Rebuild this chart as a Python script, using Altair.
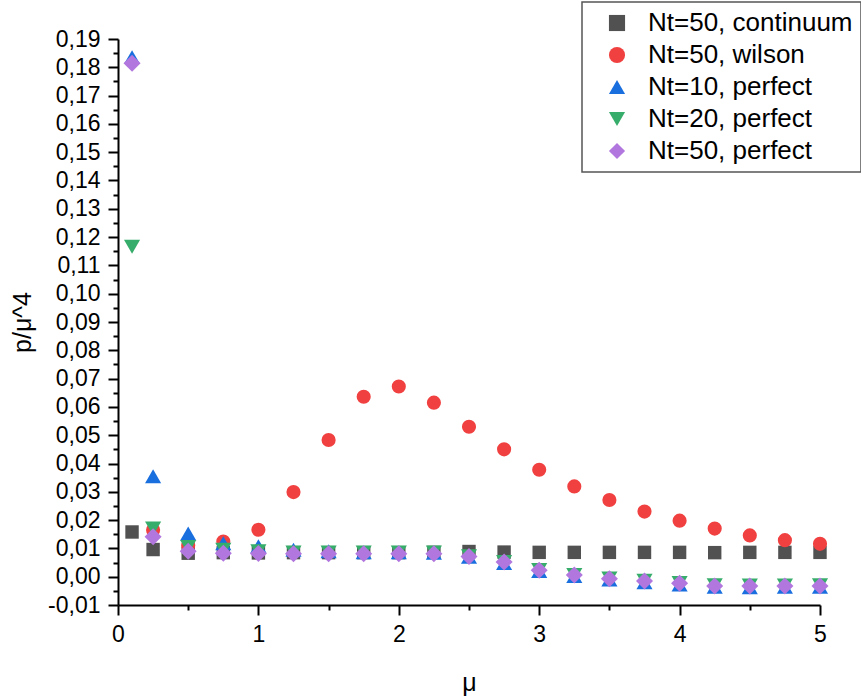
import altair as alt
import pandas as pd

x_all = [0.1, 0.25, 0.5, 0.75, 1.0, 1.25, 1.5, 1.75, 2.0, 2.25, 2.5, 2.75,
         3.0, 3.25, 3.5, 3.75, 4.0, 4.25, 4.5, 4.75, 5.0]
x_wilson = x_all[1:]

continuum_50 = [0.0158, 0.0096, 0.0083, 0.0085, 0.0084, 0.0085, 0.0085, 0.0085,
                0.0085, 0.0086, 0.0089, 0.0087, 0.0086, 0.0086, 0.0086, 0.0086,
                0.0086, 0.0085, 0.0086, 0.0086, 0.0086]
wilson_50 = [0.0165, 0.0110, 0.0124, 0.0166, 0.0299, 0.0483, 0.0636, 0.0672,
             0.0615, 0.0530, 0.0450, 0.0378, 0.0319, 0.0271, 0.0230, 0.0198,
             0.0170, 0.0146, 0.0129, 0.0116]
perfect_10 = [0.1836, 0.0355, 0.0153, 0.0118, 0.0108, 0.0095, 0.0090, 0.0086,
              0.0086, 0.0085, 0.0070, 0.0048, 0.0020, 0.0002, -0.0010, -0.0020,
              -0.0028, -0.0036, -0.0037, -0.0036, -0.0036]
perfect_20 = [0.1166, 0.0170, 0.0105, 0.0095, 0.0090, 0.0086, 0.0086, 0.0086,
              0.0086, 0.0086, 0.0072, 0.0052, 0.0024, 0.0006, -0.0006, -0.0014,
              -0.0022, -0.0030, -0.0031, -0.0031, -0.0030]
perfect_50 = [0.1814, 0.0141, 0.0090, 0.0083, 0.0082, 0.0081, 0.0081, 0.0081,
              0.0081, 0.0081, 0.0071, 0.0052, 0.0023, 0.0006, -0.0007, -0.0015,
              -0.0023, -0.0033, -0.0033, -0.0033, -0.0033]

series_names = ["Nt=50, continuum", "Nt=50, wilson", "Nt=10, perfect",
                "Nt=20, perfect", "Nt=50, perfect"]
series_colors = ["#515151", "#F14040", "#1A6FDF", "#37AD6B", "#B177DE"]
series_shapes = ["square", "circle", "triangle-up", "triangle-down", "diamond"]
series_sizes = [180, 200, 260, 260, 290]
series_x = [x_all, x_wilson, x_all, x_all, x_all]
series_y = [continuum_50, wilson_50, perfect_10, perfect_20, perfect_50]

x_major = [0, 1, 2, 3, 4, 5]
x_minor = [0.5, 1.5, 2.5, 3.5, 4.5]
y_major = [round(-0.01 + 0.01 * i, 2) for i in range(21)]
y_minor = [round(-0.005 + 0.01 * i, 3) for i in range(20)]

frames = []
for name, xs, ys in zip(series_names, series_x, series_y):
    frames.append(pd.DataFrame({"mu": xs, "p": ys, "series": name}))
df_all = pd.concat(frames, ignore_index=True)

FONT = "Liberation Sans"
x_scale = alt.Scale(domain=[0, 5], nice=False, zero=False)
y_scale = alt.Scale(domain=[-0.01, 0.19], nice=False, zero=False)
color_scale = alt.Scale(domain=series_names, range=series_colors)
shape_scale = alt.Scale(domain=series_names, range=series_shapes)

x_axis = alt.Axis(
    values=x_major, orient="bottom", format="d",
    tickSize=10, grid=False, domainColor="black", domainWidth=2,
    tickColor="black", tickWidth=2,
    labelFont=FONT, labelFontSize=23, labelColor="black", labelPadding=8,
    title="μ", titleFont=FONT, titleFontSize=25, titleFontWeight="normal",
    titleColor="black", titleX=351, titleY=77, titleBaseline="middle",
    titleAlign="center", labelFlush=False, labelOverlap=False,
)
y_axis = alt.Axis(
    values=y_major, orient="left",
    labelExpr="replace(replace(format(datum.value, '.2f'), '.', ','), '\u2212', '-')",
    tickSize=10, grid=False, domainColor="black", domainWidth=2,
    tickColor="black", tickWidth=2,
    labelFont=FONT, labelFontSize=23, labelColor="black", labelPadding=8,
    title="p/μ^4", titleFont=FONT, titleFontSize=25, titleFontWeight="normal",
    titleColor="black", titleX=-96, titleY=283, titleAngle=270,
    titleBaseline="middle", titleAlign="center", labelFlush=False, labelOverlap=False,
)
x_axis_minor = alt.Axis(values=x_minor, orient="bottom", labels=False, domain=False,
                        grid=False, tickSize=5, tickColor="black", tickWidth=2, title=None)
y_axis_minor = alt.Axis(values=y_minor, orient="left", labels=False, domain=False,
                        grid=False, tickSize=5, tickColor="black", tickWidth=2, title=None)

legend = alt.Legend(
    title=None, orient="none", legendX=464, legendY=-37,
    strokeColor="#555555", fillColor="white", padding=8,
    labelFont=FONT, labelFontSize=26, labelColor="black", labelOffset=18,
    labelLimit=400, symbolOffset=14, rowPadding=6, symbolStrokeWidth=0,
    symbolSize=260,
)

minor = alt.Chart(df_all).mark_point(opacity=0).encode(
    x=alt.X("mu:Q", scale=x_scale, axis=x_axis_minor),
    y=alt.Y("p:Q", scale=y_scale, axis=y_axis_minor),
)

layers = []
for name, xs, ys, shp, sz in zip(series_names, series_x, series_y,
                                  series_shapes, series_sizes):
    d = pd.DataFrame({"mu": xs, "p": ys, "series": name})
    layers.append(
        alt.Chart(d).mark_point(filled=True, opacity=1, strokeWidth=0, size=sz).encode(
            x=alt.X("mu:Q", scale=x_scale, axis=x_axis),
            y=alt.Y("p:Q", scale=y_scale, axis=y_axis),
            color=alt.Color("series:N", scale=color_scale, legend=legend),
            shape=alt.Shape("series:N", scale=shape_scale, legend=legend),
        )
    )

points = alt.layer(*layers)

chart = alt.layer(minor, points).resolve_axis(x="independent", y="independent").properties(
    width=702, height=566,
    autosize=alt.AutoSizeParams(type="none"),
    padding={"left": 118, "top": 39, "right": 41, "bottom": 93},
    background="white",
).configure_view(stroke=None).configure_legend(strokeWidth=1.5)

chart.save("out.html", embed_options={"renderer": "svg", "actions": False})
